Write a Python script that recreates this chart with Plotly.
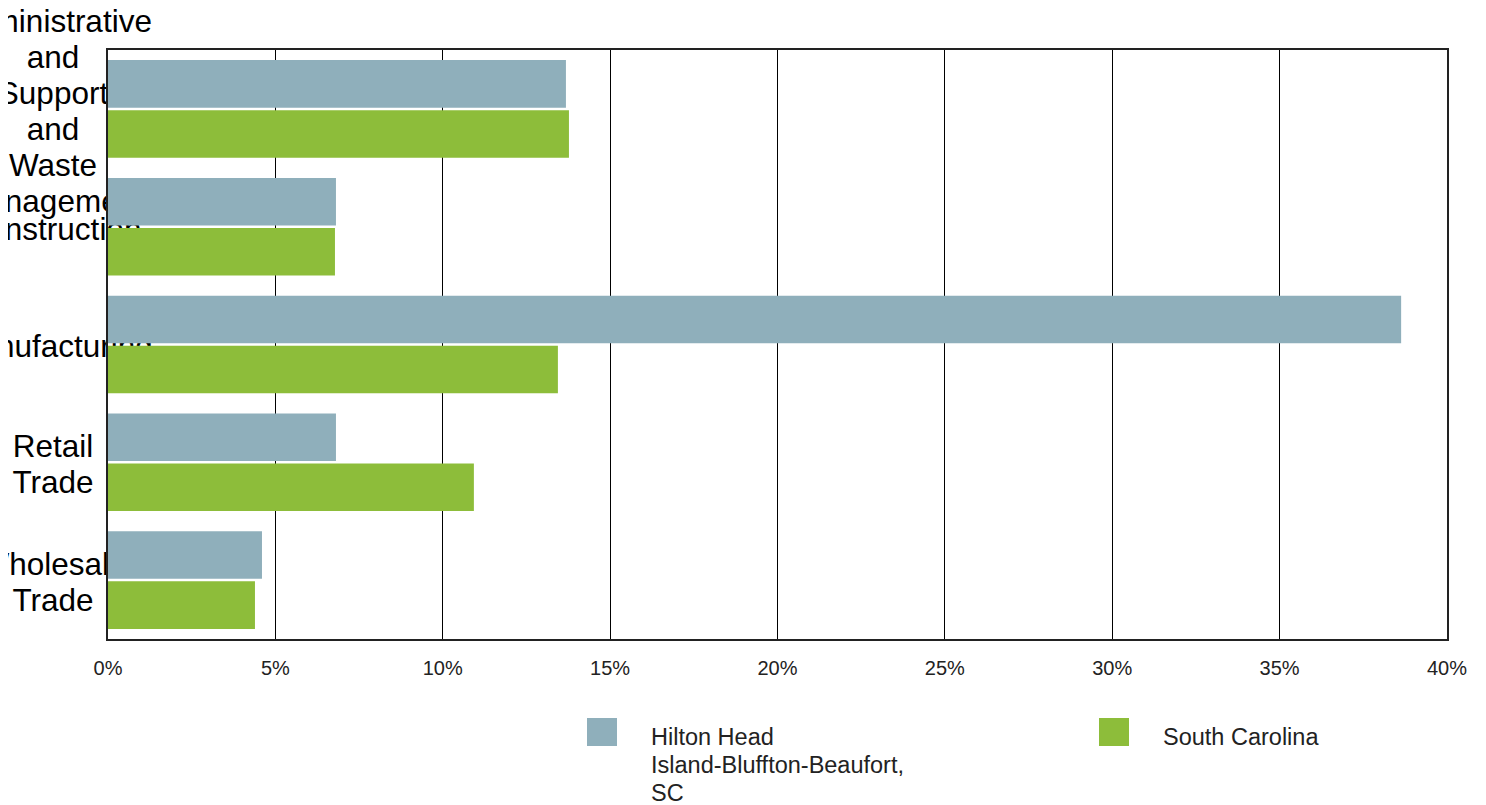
import plotly.graph_objects as go

categories = ["Administrative and Support and Waste Management", "Construction",
              "Manufacturing", "Retail Trade", "Wholesale Trade"]
label_lines = [["Administrative", "and", "Support", "and", "Waste", "Management"],
               ["Construction"], ["Manufacturing"], ["Retail", "Trade"], ["Wholesale", "Trade"]]
series_names = ["Hilton Head Island-Bluffton-Beaufort, SC", "South Carolina"]
legend_lines = [["Hilton Head", "Island-Bluffton-Beaufort,", "SC"], ["South Carolina"]]
hilton_head = [13.68, 6.81, 38.63, 6.81, 4.60]
south_carolina = [13.77, 6.78, 13.44, 10.93, 4.39]
series_values = [hilton_head, south_carolina]
colors = ["#8FAFBB", "#8DBD3A"]
x_ticks = [0, 5, 10, 15, 20, 25, 30, 35, 40]

# Figure geometry (page is offset by the 8px body margin)
W, H = 1478, 797
PL, PR, PT, PB = 100, 1439, 42, 631   # plot area edges in figure pixels
plot_h = PB - PT
px_per_cat = plot_h / len(categories)
FONT = "Liberation Sans, Arial, sans-serif"

fig = go.Figure()

# Category labels on a full-figure pixel subplot drawn beneath the bars
tx, ty, tt = [], [], []
line_gap = 36.0
label_center_px = 45.0
label_dy = 5.0
for i, lines in enumerate(label_lines):
    n = len(lines)
    center = PT + (i + 0.5) * px_per_cat + label_dy
    for j, s in enumerate(lines):
        tx.append(label_center_px)
        ty.append(center + (j - (n - 1) / 2.0) * line_gap)
        tt.append(s)
fig.add_trace(go.Scatter(x=tx, y=ty, text=tt, mode="text", textposition="middle center",
                         textfont=dict(family=FONT, size=31.5, color="#000000"),
                         cliponaxis=False, showlegend=False, hoverinfo="skip",
                         xaxis="x", yaxis="y"))

for name, vals, col in zip(series_names, series_values, colors):
    fig.add_trace(go.Bar(y=categories, x=vals, name=name, orientation="h",
                         marker=dict(color=col, line=dict(width=0)),
                         xaxis="x2", yaxis="y2", showlegend=False))

fig.update_layout(
    width=W, height=H,
    margin=dict(l=0, r=0, t=0, b=0, pad=0, autoexpand=False),
    paper_bgcolor="white", plot_bgcolor="rgba(0,0,0,0)",
    barmode="group", bargap=0.15, bargroupgap=0.05,
    font=dict(family=FONT, color="#222222"),
    xaxis=dict(domain=[0, 1], range=[0, W], visible=False, fixedrange=True),
    yaxis=dict(domain=[0, 1], range=[H, 0], visible=False, fixedrange=True),
    xaxis2=dict(anchor="y2", domain=[PL / W, PR / W], range=[0, 40], tickvals=x_ticks,
                ticktext=[f"{v}%" for v in x_ticks],
                showgrid=True, gridcolor="#000000", gridwidth=1, zeroline=False,
                showline=True, linecolor="#222222", linewidth=2, mirror=True,
                ticks="", ticklabelstandoff=10,
                tickfont=dict(family=FONT, size=20, color="#222222"),
                fixedrange=True),
    yaxis2=dict(anchor="x2", domain=[(H - PB) / H, (H - PT) / H], type="category",
                categoryorder="array", categoryarray=categories,
                range=[len(categories) - 0.5, -0.5], showgrid=False, zeroline=False,
                showticklabels=False, ticks="", showline=True, linecolor="#222222",
                linewidth=2, mirror=True, fixedrange=True),
)

# Legend (decorative): swatches + text below the plot
legend_x = [579, 1091]
sw_w = 30
sw_top, sw_bot = 710, 738
text_dx = 62
line_y0 = 729
legend_gap = 28
for k in range(len(series_names)):
    fig.add_shape(type="rect", xref="paper", yref="paper",
                  x0=legend_x[k] / W, x1=(legend_x[k] + sw_w) / W,
                  y0=(H - sw_bot) / H, y1=(H - sw_top) / H,
                  fillcolor=colors[k], line=dict(width=0), layer="above")
    for j, s in enumerate(legend_lines[k]):
        fig.add_annotation(xref="paper", yref="paper",
                           x=(legend_x[k] + text_dx) / W,
                           y=(H - (line_y0 + j * legend_gap)) / H,
                           xanchor="left", yanchor="middle", text=s, showarrow=False,
                           font=dict(family=FONT, size=23.5, color="#222222"))

fig.write_html("out.html")
